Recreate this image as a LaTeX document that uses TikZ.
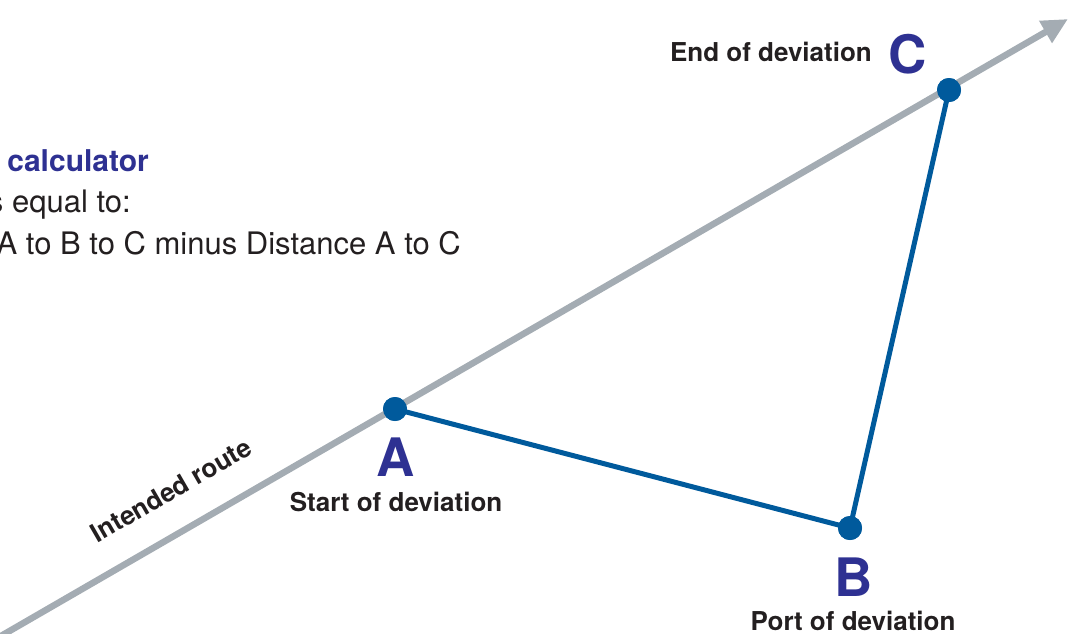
\documentclass[tikz,border=0pt]{standalone}
\usepackage{fontspec}
\setmainfont{TeX Gyre Heros}
\usetikzlibrary{arrows.meta}
\definecolor{routegray}{HTML}{A4ACB3}
\definecolor{legblue}{HTML}{005A9C}
\definecolor{letterblue}{HTML}{2E3192}
\definecolor{darktext}{HTML}{231F20}
\tikzset{
  route/.style={draw=routegray, line width=6.5pt, -{Triangle[length=26pt,width=24pt]}},
  leg/.style={draw=legblue, line width=5pt, line join=round},
  dot/.style={circle, fill=legblue, minimum size=24pt, inner sep=0pt},
  bigletter/.style={text=letterblue, font=\fontsize{53}{53}\selectfont\bfseries, inner sep=0pt},
  label/.style={text=darktext, font=\fontsize{26}{26}\selectfont\bfseries, inner sep=0pt},
  bodytext/.style={text=darktext, font=\fontsize{31}{31}\selectfont, inner sep=0pt},
  headtext/.style={text=letterblue, font=\fontsize{30}{30}\selectfont\bfseries, inner sep=0pt}
}
\begin{document}
\begin{tikzpicture}[x=1pt,y=-1pt]
\useasboundingbox (0,0) rectangle (1070,633);
\coordinate (rs) at (-6,640);
\coordinate (re) at (1068,19);
\node[dot] (A) at (395,409) {};
\node[dot] (B) at (850,528) {};
\node[dot] (C) at (949,90) {};
\draw[route] (rs) -- (re);
\draw[leg] (A.center) -- (B.center) -- (C.center);
\node[dot] at (A) {};
\node[dot] at (B) {};
\node[dot] at (C) {};
% letters
\node[bigletter, anchor=base] (la) at (396,476) {A};
\node[bigletter, anchor=base] (lb) at (854,596) {B};
\node[bigletter, anchor=base] (lc) at (908,73) {C};
% labels
\node[label, anchor=base] (sa) at (396,511) {Start of deviation};
\node[label, anchor=base] (sb) at (853,630) {Port of deviation};
\node[label, anchor=base east] (sc) at (872,61) {End of deviation};
\node[label, rotate=30] (ir) at (171,490) {Intended route};
% left text
\node[headtext, anchor=base east] (h1) at (149,171) {calculator};
\node[bodytext, anchor=base east] (t1) at (131,212) {s equal to:};
\node[bodytext, anchor=base east] (t2) at (461,254) {A to B to C minus Distance A to C};
\end{tikzpicture}
\end{document}
